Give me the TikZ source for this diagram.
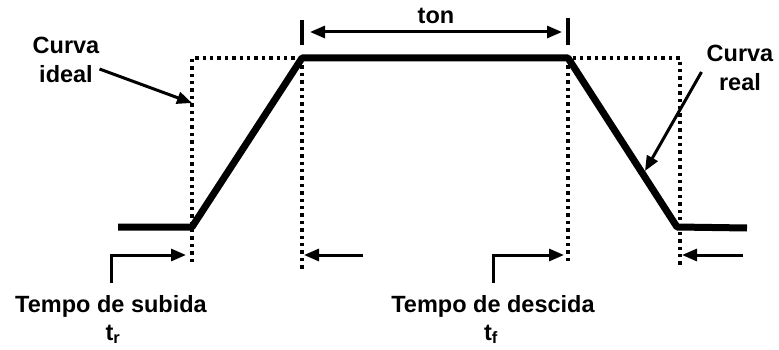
\documentclass[tikz,border=0pt]{standalone}
\usepackage{fontspec}
\setmainfont{Liberation Sans}
\usetikzlibrary{arrows.meta}

\begin{document}
\begin{tikzpicture}[x=1pt, y=-1pt, >={Triangle[length=15pt,width=12pt]},
  real/.style={line width=7pt, line join=round},
  ideal/.style={line width=3.4pt, dash pattern=on 3.4pt off 4pt},
  seta/.style={line width=3pt, ->},
  rotulo/.style={font=\fontsize{23.5}{29}\selectfont\bfseries, align=center, inner sep=0pt}]

  \useasboundingbox (0,0) rectangle (779,350);

  % ==========================================
  % CURVA IDEAL (PONTILHADA)
  % ==========================================
  \coordinate (Ib) at (192,262);
  \coordinate (It) at (192,58);
  \coordinate (Jt) at (680,58);
  \coordinate (Jb) at (680,268);
  \draw[ideal] (Ib) -- (It) -- (Jt) -- (Jb);

  % Guias verticais do ton
  \draw[ideal] (302,58) -- (302,270);
  \draw[ideal] (568,58) -- (568,262);

  % ==========================================
  % CURVA REAL (TRAÇO GROSSO)
  % ==========================================
  \coordinate (A) at (118,227);
  \coordinate (B) at (192,227);
  \coordinate (C) at (302,58);
  \coordinate (D) at (568,58);
  \coordinate (E) at (677,227);
  \coordinate (F) at (747,228);
  \draw[real] (A) -- (B) -- (C) -- (D) -- (E) -- (F);

  % ton entre as duas marcas
  \draw[line width=3.2pt] (302,20) -- (302,45);
  \draw[line width=3.2pt] (568,18) -- (568,45);
  \coordinate (tonA) at (310,32);
  \coordinate (tonB) at (562,32);
  \draw[<->, line width=3pt] (tonA) -- node[above=7pt, rotulo] (ton) {ton} (tonB);

  % ==========================================
  % RÓTULOS DAS CURVAS
  % ==========================================
  \node[rotulo] (lblideal) at (66,60) {Curva\\ideal};
  \coordinate (pIdeal) at (192,103);
  \draw[seta] ([yshift=-9pt]lblideal.east) -- (pIdeal);

  \node[rotulo] (lblreal) at (740,68) {Curva\\real};
  \coordinate (pReal) at (645,171);
  \draw[seta] ([xshift=-5pt,yshift=-4pt]lblreal.west) -- (pReal);

  % ==========================================
  % TEMPOS DE SUBIDA E DESCIDA
  % ==========================================
  \node[rotulo, anchor=base] (subida) at (111,312) {Tempo de subida};
  \node[rotulo, anchor=base] (tr) at (113,340) {t\textsubscript{r}};
  \coordinate (pSubida) at (186,255);
  \draw[seta] ([yshift=12pt]subida.north) |- (pSubida);

  \node[rotulo, anchor=base] (descida) at (493,312) {Tempo de descida};
  \node[rotulo, anchor=base] (tf) at (491,340) {t\textsubscript{f}};
  \coordinate (pDescida) at (564,255);
  \draw[seta] ([yshift=12pt]descida.north) |- (pDescida);

  % Setas de fim (apontando para a esquerda)
  \coordinate (qa) at (363,255);
  \coordinate (qb) at (304,255);
  \draw[seta] (qa) -- (qb);
  \coordinate (ra) at (743,255);
  \coordinate (rb) at (682,255);
  \draw[seta] (ra) -- (rb);

\end{tikzpicture}
\end{document}
